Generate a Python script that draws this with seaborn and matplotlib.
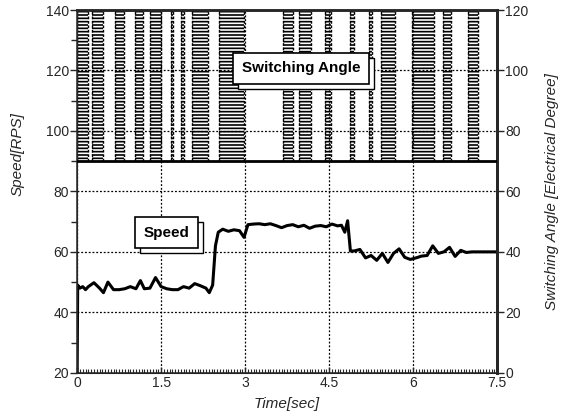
import numpy as np
import pandas as pd
import seaborn as sns
import matplotlib
matplotlib.use("Agg")
import matplotlib.pyplot as plt
from matplotlib.ticker import MultipleLocator
from matplotlib.patches import Rectangle
from matplotlib.transforms import IdentityTransform

# speed trace
time_s = [0, 0.01, 0.05, 0.1, 0.15, 0.2, 0.3, 0.4, 0.47, 0.55, 0.65, 0.75, 0.85, 0.95,
          1.05, 1.13, 1.2, 1.3, 1.4, 1.5, 1.6, 1.7, 1.8, 1.9, 2.0, 2.1, 2.2, 2.3, 2.36,
          2.42, 2.47, 2.52, 2.6, 2.7, 2.8, 2.9, 2.98, 3.05, 3.15, 3.25, 3.35, 3.45, 3.55,
          3.65, 3.75, 3.85, 3.95, 4.05, 4.15, 4.25, 4.35, 4.45, 4.55, 4.65, 4.72, 4.78,
          4.83, 4.88, 4.95, 5.05, 5.15, 5.25, 5.35, 5.45, 5.55, 5.65, 5.75, 5.85, 5.95,
          6.05, 6.15, 6.25, 6.35, 6.45, 6.55, 6.65, 6.75, 6.85, 6.95, 7.05, 7.15, 7.25,
          7.35, 7.5]
speed_rps = [20, 49, 48, 48.5, 47.5, 48.5, 49.8, 48, 46.5, 50, 47.5, 47.5, 47.8, 48.5,
             47.8, 50.5, 47.8, 48, 51.5, 48.5, 47.8, 47.5, 47.5, 48.5, 48, 49.5, 48.8, 48,
             46.5, 49, 62, 66.5, 67.5, 66.8, 67.3, 67, 64.8, 69, 69.2, 69.3, 69, 69.3, 68.7,
             68, 68.7, 69, 68.3, 68.8, 67.8, 68.5, 68.7, 68.3, 69.2, 68.6, 68.8, 66.5,
             70.3, 60.3, 60.3, 60.8, 58, 58.8, 57.2, 59.5, 56.5, 59.5, 61, 58.2, 57.5,
             58, 58.6, 58.8, 62, 59.5, 60, 61.5, 58.5, 60.5, 59.8, 60, 60, 60,
             60, 60]

# switching angle bursts (sec), angle jumps between 70 and 120 deg
pulse_start = [0.0, 0.27, 0.68, 1.04, 1.31, 1.67, 1.85, 2.06, 2.53, 3.68, 3.97, 4.42,
               4.87, 5.21, 5.42, 5.98, 6.54, 6.98]
pulse_end = [0.2, 0.47, 0.83, 1.18, 1.49, 1.72, 1.90, 2.33, 2.98, 3.86, 4.18, 4.54,
             4.94, 5.26, 5.67, 6.37, 6.68, 7.16]
angle_low = 70
angle_high = 120

x_ticks = [0, 1.5, 3, 4.5, 6, 7.5]
x_ticklabels = ["0", "1.5", "3", "4.5", "6", "7.5"]
speed_ticks = [20, 40, 60, 80, 100, 120, 140]
angle_ticks = [0, 20, 40, 60, 80, 100, 120]

sns.set_style("ticks")
plt.rcParams["font.family"] = ["Liberation Sans", "DejaVu Sans"]
plt.rcParams["hatch.linewidth"] = 1.2

df = pd.DataFrame({"Time": time_s, "Speed": speed_rps})

fig = plt.figure(figsize=(5.63, 4.17), dpi=100)
ax = fig.add_axes([0.137, 0.106, 0.746, 0.870])

sns.lineplot(data=df, x="Time", y="Speed", ax=ax, color="black", lw=2.2, zorder=5)

ax.set_xlim(0, 7.5)
ax.set_ylim(20, 140)
ax.set_xticks(x_ticks)
ax.set_xticklabels(x_ticklabels)
ax.set_yticks(speed_ticks)
ax.yaxis.set_minor_locator(MultipleLocator(10))
ax.xaxis.set_minor_locator(MultipleLocator(0.05))
ax.tick_params(axis="y", which="major", direction="out", length=5, width=1, labelsize=10, pad=1)
ax.tick_params(axis="y", which="minor", direction="out", length=4, width=1)
ax.tick_params(axis="x", which="major", direction="in", length=4, width=1, labelsize=10, pad=2)
ax.tick_params(axis="x", which="minor", direction="in", length=3, width=0.8)
ax.grid(True, which="major", color="black", linestyle=(0, (1.5, 1.5)), linewidth=0.9)
ax.set_xlabel("Time[sec]", fontsize=11, style="italic", labelpad=5)
ax.set_ylabel("")
fig.text(0.032, 0.63, "Speed[RPS]", rotation=90, fontsize=11, style="italic",
         ha="center", va="center")

for side in ["left", "bottom"]:
    ax.spines[side].set_linewidth(1.1)
ax.spines["top"].set_linewidth(1.8)
ax.spines["right"].set_linewidth(2.0)

ax2 = ax.twinx()
ax2.set_ylim(0, 120)
ax2.set_yticks(angle_ticks)
ax2.tick_params(axis="y", direction="out", length=5, width=1, labelsize=10, pad=1)
ax2.set_ylabel("Switching Angle [Electrical Degree]", fontsize=11, style="italic", labelpad=12)
ax2.spines["right"].set_linewidth(2.0)
ax2.spines["top"].set_linewidth(1.8)

for s, e in zip(pulse_start, pulse_end):
    ax2.fill_between([s, e], angle_low, angle_high, facecolor="none", edgecolor="black",
                     hatch="-----", linewidth=0, zorder=2)
    ax2.vlines([s, e], angle_low, angle_high, color="black", linewidth=1.0,
               linestyles=(0, (2, 1.2)), zorder=2)
ax2.axhline(angle_low, color="black", linewidth=2.0, zorder=3)

labels = []
for x, y, txt in [(1.6, 46.3, "Speed"), (4.0, 100.7, "Switching Angle")]:
    t = ax2.text(x, y, txt, ha="center", va="center", fontsize=11, fontweight="bold",
                 color="black", zorder=9,
                 bbox=dict(boxstyle="square,pad=0.55", fc="white", ec="black", lw=1.2))
    labels.append(t)

# offset "shadow" frame behind each label box
fig.canvas.draw()
for t in labels:
    bb = t.get_bbox_patch().get_window_extent()
    fig.patches.append(Rectangle((bb.x0 + 5, bb.y0 - 5), bb.width, bb.height,
                                 transform=IdentityTransform(), fc="white", ec="black",
                                 lw=1.0, zorder=8, figure=fig))
    t.set_zorder(10)
    t.remove()
    fig.texts.append(t)
    t.set_figure(fig)

fig.savefig("out.png", dpi=100)
